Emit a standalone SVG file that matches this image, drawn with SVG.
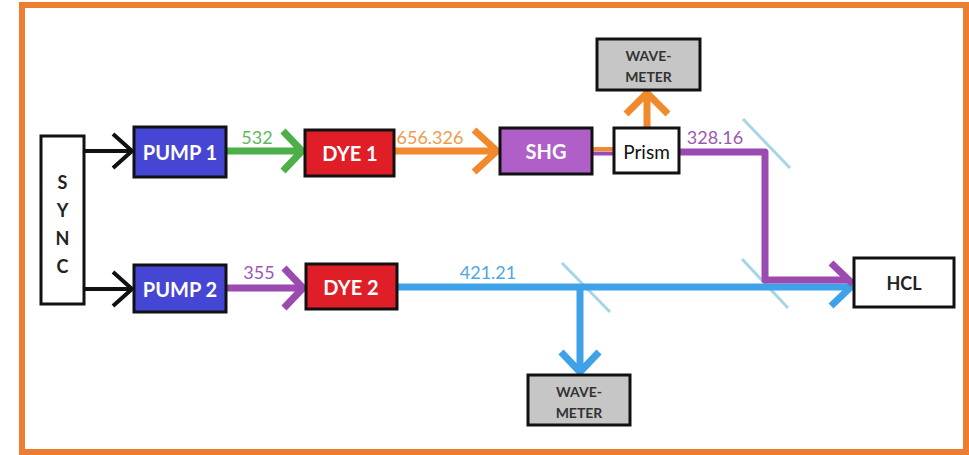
<svg xmlns="http://www.w3.org/2000/svg" width="969" height="455" viewBox="0 0 969 455">
<style>
.box{stroke:#111;stroke-width:3}
.t{font-family:Lato,"Liberation Sans",sans-serif;font-weight:bold;text-anchor:middle;dominant-baseline:central}
.wt{fill:#fff;font-size:20px}
.wm{fill:#333;font-size:14px}
.sy{fill:#222;font-size:18px}
.lbl{font-family:Lato,"Liberation Sans",sans-serif;font-size:18px;text-anchor:middle}
.ln{fill:none;stroke-linejoin:round}
</style>
<rect x="22" y="5" width="944" height="447" fill="#fff" stroke="#ED7D31" stroke-width="6"/>
<g id="connectors" class="ln">
<path d="M84 151H131M113 134L132 151L113 168" stroke="#111" stroke-width="4"/>
<path d="M84 289H131M113 272L132 289L113 306" stroke="#111" stroke-width="4"/>
<path d="M226 151H301M283 131L302 151L283 171" stroke="#4CAF47" stroke-width="7"/>
<path d="M226 288H302M284 268L303 288L284 308" stroke="#9A4AB0" stroke-width="7"/>
<path d="M394 151H496M474 130L497 151L474 172" stroke="#F08A2C" stroke-width="7"/>
<path d="M592 149H614" stroke="#F08A2C" stroke-width="4"/>
<path d="M592 153.5H614" stroke="#9A4AB0" stroke-width="4"/>
<path d="M647 128V94M626 114L647 93L668 114" stroke="#F08A2C" stroke-width="7"/>
<path d="M743 119L790 168M742 259L788 308M562 263L610 312" stroke="#A6D6E6" stroke-width="3"/>
<path d="M397 287H850M580 287V371M561 352L580 372L599 352" stroke="#3FA2E8" stroke-width="7"/>
<path d="M853 285L831 306" stroke="#3FA2E8" stroke-width="7"/>
<path d="M679 152H765V280H850" stroke="#9A4AB0" stroke-width="7"/>
<path d="M831 263L853 284" stroke="#9A4AB0" stroke-width="7"/>
</g>
<g id="sync"><rect class="box" x="41" y="136" width="43" height="168" fill="#fff"/>
<text class="t sy" x="62.5" y="182">S</text>
<text class="t sy" x="62.5" y="210">Y</text>
<text class="t sy" x="62.5" y="238">N</text>
<text class="t sy" x="62.5" y="266">C</text></g>
<g id="pump1"><rect class="box" x="134" y="127" width="92" height="50" fill="#4646D4"/><text class="t wt" x="180" y="152">PUMP 1</text></g>
<g id="pump2"><rect class="box" x="134" y="265" width="92" height="47" fill="#4646D4"/><text class="t wt" x="180" y="289">PUMP 2</text></g>
<g id="dye1"><rect class="box" x="305" y="130" width="89" height="46" fill="#E01E28"/><text class="t wt" x="350" y="153">DYE 1</text></g>
<g id="dye2"><rect class="box" x="306" y="264" width="91" height="45" fill="#E01E28"/><text class="t wt" x="351" y="287">DYE 2</text></g>
<g id="shg"><rect class="box" x="500" y="128" width="92" height="46" fill="#B05EC8"/><text class="t wt" x="546" y="151">SHG</text></g>
<g id="prism"><rect class="box" x="614" y="128" width="65" height="45" fill="#fff"/><text class="t" x="646.5" y="151" font-size="19" fill="#111" style="font-weight:normal">Prism</text></g>
<g id="wavemeter1"><rect class="box" x="597" y="39" width="103" height="51" fill="#C6C6C6"/><text class="t wm" x="648.5" y="55">WAVE-</text><text class="t wm" x="648.5" y="76">METER</text></g>
<g id="wavemeter2"><rect class="box" x="528" y="375" width="102" height="50" fill="#C6C6C6"/><text class="t wm" x="579" y="391">WAVE-</text><text class="t wm" x="579" y="412">METER</text></g>
<g id="hcl"><rect class="box" x="854" y="258" width="100" height="49" fill="#fff"/><text class="t" x="904" y="283" font-size="18" fill="#222">HCL</text></g>
<g id="labels">
<text class="lbl" x="257" y="144" fill="#5DB860">532</text>
<text class="lbl" x="259" y="279" fill="#9A58B4">355</text>
<text class="lbl" x="430" y="144" fill="#F09A4A">656.326</text>
<text class="lbl" x="715" y="144" fill="#9A58B4">328.16</text>
<text class="lbl" x="488" y="279" fill="#4FA6E0">421.21</text>
</g>
</svg>
